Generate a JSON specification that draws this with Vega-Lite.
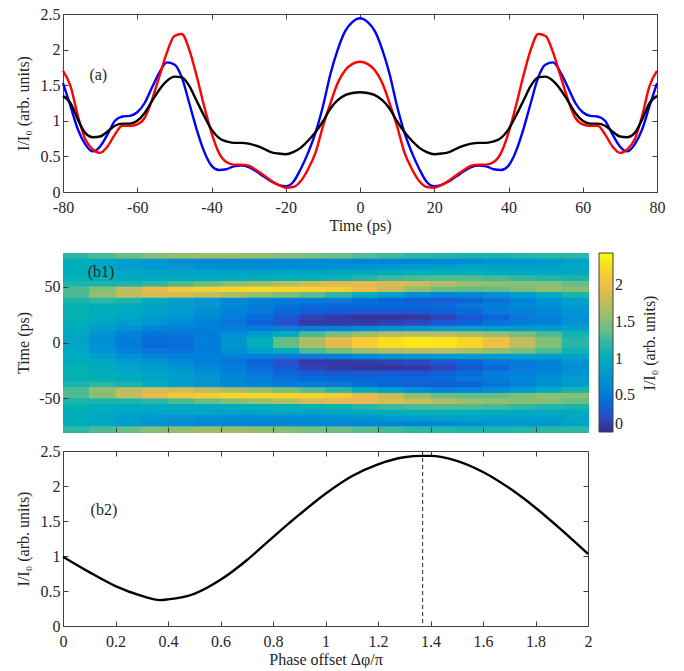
{
  "$schema": "https://vega.github.io/schema/vega-lite/v6.json",
  "padding": {"left": 14, "top": 5, "right": 0, "bottom": 0},
  "config": {
    "font": "Liberation Serif",
    "view": {"stroke": "#404040", "strokeWidth": 1},
    "axis": {
      "grid": false, "domain": false, "tickColor": "#404040", "tickSize": -5,
      "labelPadding": 8, "labelFont": "Liberation Serif", "labelFontSize": 16,
      "labelColor": "#262626", "labelOverlap": false, "labelFlush": false,
      "titleFont": "Liberation Serif", "titleFontSize": 16, "titleFontWeight": "normal",
      "titleColor": "#262626", "titlePadding": 2
    },
    "axisX": {"labelPadding": 12, "titlePadding": 2},
    "axisLeft": {"minExtent": 30, "maxExtent": 30},
    "text": {"font": "Liberation Serif", "fontSize": 16, "color": "#262626"}
  },
  "datasets": {
    "lines": [
      {"t":-80,"s":"b","v":1.53},{"t":-78,"s":"b","v":1.21},{"t":-76,"s":"b","v":0.88},{"t":-74,"s":"b","v":0.67},{"t":-72,"s":"b","v":0.57},{"t":-70,"s":"b","v":0.64},{"t":-68,"s":"b","v":0.81},{"t":-66,"s":"b","v":1.0},{"t":-64,"s":"b","v":1.06},{"t":-62,"s":"b","v":1.07},{"t":-60,"s":"b","v":1.12},{"t":-58,"s":"b","v":1.25},{"t":-56,"s":"b","v":1.47},{"t":-54,"s":"b","v":1.68},{"t":-52,"s":"b","v":1.82},{"t":-50,"s":"b","v":1.79},{"t":-48,"s":"b","v":1.61},{"t":-46,"s":"b","v":1.25},{"t":-44,"s":"b","v":0.88},{"t":-42,"s":"b","v":0.57},{"t":-40,"s":"b","v":0.37},{"t":-38,"s":"b","v":0.31},{"t":-36,"s":"b","v":0.32},{"t":-34,"s":"b","v":0.36},{"t":-32,"s":"b","v":0.37},{"t":-30,"s":"b","v":0.35},{"t":-28,"s":"b","v":0.29},{"t":-26,"s":"b","v":0.22},{"t":-24,"s":"b","v":0.15},{"t":-22,"s":"b","v":0.1},{"t":-20,"s":"b","v":0.08},{"t":-18,"s":"b","v":0.14},{"t":-16,"s":"b","v":0.32},{"t":-14,"s":"b","v":0.55},{"t":-12,"s":"b","v":0.83},{"t":-10,"s":"b","v":1.2},{"t":-8,"s":"b","v":1.65},{"t":-6,"s":"b","v":2.0},{"t":-4,"s":"b","v":2.26},{"t":-2,"s":"b","v":2.39},
      {"t":0,"s":"b","v":2.44},
      {"t":2,"s":"b","v":2.39},{"t":4,"s":"b","v":2.26},{"t":6,"s":"b","v":2.0},{"t":8,"s":"b","v":1.65},{"t":10,"s":"b","v":1.2},{"t":12,"s":"b","v":0.83},{"t":14,"s":"b","v":0.55},{"t":16,"s":"b","v":0.32},{"t":18,"s":"b","v":0.14},{"t":20,"s":"b","v":0.08},{"t":22,"s":"b","v":0.1},{"t":24,"s":"b","v":0.15},{"t":26,"s":"b","v":0.22},{"t":28,"s":"b","v":0.29},{"t":30,"s":"b","v":0.35},{"t":32,"s":"b","v":0.37},{"t":34,"s":"b","v":0.36},{"t":36,"s":"b","v":0.32},{"t":38,"s":"b","v":0.31},{"t":40,"s":"b","v":0.37},{"t":42,"s":"b","v":0.57},{"t":44,"s":"b","v":0.88},{"t":46,"s":"b","v":1.25},{"t":48,"s":"b","v":1.61},{"t":50,"s":"b","v":1.79},{"t":52,"s":"b","v":1.82},{"t":54,"s":"b","v":1.68},{"t":56,"s":"b","v":1.47},{"t":58,"s":"b","v":1.25},{"t":60,"s":"b","v":1.12},{"t":62,"s":"b","v":1.07},{"t":64,"s":"b","v":1.06},{"t":66,"s":"b","v":1.0},{"t":68,"s":"b","v":0.81},{"t":70,"s":"b","v":0.64},{"t":72,"s":"b","v":0.57},{"t":74,"s":"b","v":0.67},{"t":76,"s":"b","v":0.88},{"t":78,"s":"b","v":1.21},{"t":80,"s":"b","v":1.53},
      {"t":-80,"s":"r","v":1.7},{"t":-78,"s":"r","v":1.49},{"t":-76,"s":"r","v":1.07},{"t":-74,"s":"r","v":0.74},{"t":-72,"s":"r","v":0.6},{"t":-70,"s":"r","v":0.55},{"t":-68,"s":"r","v":0.64},{"t":-66,"s":"r","v":0.81},{"t":-64,"s":"r","v":0.93},{"t":-62,"s":"r","v":0.93},{"t":-60,"s":"r","v":0.95},{"t":-58,"s":"r","v":1.04},{"t":-56,"s":"r","v":1.3},{"t":-54,"s":"r","v":1.63},{"t":-52,"s":"r","v":1.96},{"t":-50,"s":"r","v":2.19},{"t":-48,"s":"r","v":2.22},{"t":-46,"s":"r","v":2.0},{"t":-44,"s":"r","v":1.63},{"t":-42,"s":"r","v":1.21},{"t":-40,"s":"r","v":0.83},{"t":-38,"s":"r","v":0.55},{"t":-36,"s":"r","v":0.42},{"t":-34,"s":"r","v":0.385},{"t":-32,"s":"r","v":0.385},{"t":-30,"s":"r","v":0.37},{"t":-28,"s":"r","v":0.31},{"t":-26,"s":"r","v":0.24},{"t":-24,"s":"r","v":0.16},{"t":-22,"s":"r","v":0.1},{"t":-20,"s":"r","v":0.06},{"t":-18,"s":"r","v":0.07},{"t":-16,"s":"r","v":0.15},{"t":-14,"s":"r","v":0.32},{"t":-12,"s":"r","v":0.55},{"t":-10,"s":"r","v":0.92},{"t":-8,"s":"r","v":1.24},{"t":-6,"s":"r","v":1.53},{"t":-4,"s":"r","v":1.71},{"t":-2,"s":"r","v":1.8},
      {"t":0,"s":"r","v":1.83},
      {"t":2,"s":"r","v":1.8},{"t":4,"s":"r","v":1.71},{"t":6,"s":"r","v":1.53},{"t":8,"s":"r","v":1.24},{"t":10,"s":"r","v":0.92},{"t":12,"s":"r","v":0.55},{"t":14,"s":"r","v":0.32},{"t":16,"s":"r","v":0.15},{"t":18,"s":"r","v":0.07},{"t":20,"s":"r","v":0.06},{"t":22,"s":"r","v":0.1},{"t":24,"s":"r","v":0.16},{"t":26,"s":"r","v":0.24},{"t":28,"s":"r","v":0.31},{"t":30,"s":"r","v":0.37},{"t":32,"s":"r","v":0.385},{"t":34,"s":"r","v":0.385},{"t":36,"s":"r","v":0.42},{"t":38,"s":"r","v":0.55},{"t":40,"s":"r","v":0.83},{"t":42,"s":"r","v":1.21},{"t":44,"s":"r","v":1.63},{"t":46,"s":"r","v":2.0},{"t":48,"s":"r","v":2.22},{"t":50,"s":"r","v":2.19},{"t":52,"s":"r","v":1.96},{"t":54,"s":"r","v":1.63},{"t":56,"s":"r","v":1.3},{"t":58,"s":"r","v":1.04},{"t":60,"s":"r","v":0.95},{"t":62,"s":"r","v":0.93},{"t":64,"s":"r","v":0.93},{"t":66,"s":"r","v":0.81},{"t":68,"s":"r","v":0.64},{"t":70,"s":"r","v":0.55},{"t":72,"s":"r","v":0.6},{"t":74,"s":"r","v":0.74},{"t":76,"s":"r","v":1.07},{"t":78,"s":"r","v":1.49},{"t":80,"s":"r","v":1.7},
      {"t":-80,"s":"k","v":1.35},{"t":-78,"s":"k","v":1.25},{"t":-76,"s":"k","v":1.02},{"t":-74,"s":"k","v":0.83},{"t":-72,"s":"k","v":0.77},{"t":-70,"s":"k","v":0.78},{"t":-68,"s":"k","v":0.85},{"t":-66,"s":"k","v":0.93},{"t":-64,"s":"k","v":0.96},{"t":-62,"s":"k","v":0.96},{"t":-60,"s":"k","v":1.0},{"t":-58,"s":"k","v":1.11},{"t":-56,"s":"k","v":1.28},{"t":-54,"s":"k","v":1.44},{"t":-52,"s":"k","v":1.56},{"t":-50,"s":"k","v":1.62},{"t":-48,"s":"k","v":1.61},{"t":-46,"s":"k","v":1.49},{"t":-44,"s":"k","v":1.28},{"t":-42,"s":"k","v":1.07},{"t":-40,"s":"k","v":0.88},{"t":-38,"s":"k","v":0.76},{"t":-36,"s":"k","v":0.71},{"t":-34,"s":"k","v":0.69},{"t":-32,"s":"k","v":0.69},{"t":-30,"s":"k","v":0.68},{"t":-28,"s":"k","v":0.65},{"t":-26,"s":"k","v":0.61},{"t":-24,"s":"k","v":0.56},{"t":-22,"s":"k","v":0.54},{"t":-20,"s":"k","v":0.53},{"t":-18,"s":"k","v":0.56},{"t":-16,"s":"k","v":0.62},{"t":-14,"s":"k","v":0.72},{"t":-12,"s":"k","v":0.84},{"t":-10,"s":"k","v":0.99},{"t":-8,"s":"k","v":1.17},{"t":-6,"s":"k","v":1.29},{"t":-4,"s":"k","v":1.36},{"t":-2,"s":"k","v":1.39},
      {"t":0,"s":"k","v":1.4},
      {"t":2,"s":"k","v":1.39},{"t":4,"s":"k","v":1.36},{"t":6,"s":"k","v":1.29},{"t":8,"s":"k","v":1.17},{"t":10,"s":"k","v":0.99},{"t":12,"s":"k","v":0.84},{"t":14,"s":"k","v":0.72},{"t":16,"s":"k","v":0.62},{"t":18,"s":"k","v":0.56},{"t":20,"s":"k","v":0.53},{"t":22,"s":"k","v":0.54},{"t":24,"s":"k","v":0.56},{"t":26,"s":"k","v":0.61},{"t":28,"s":"k","v":0.65},{"t":30,"s":"k","v":0.68},{"t":32,"s":"k","v":0.69},{"t":34,"s":"k","v":0.69},{"t":36,"s":"k","v":0.71},{"t":38,"s":"k","v":0.76},{"t":40,"s":"k","v":0.88},{"t":42,"s":"k","v":1.07},{"t":44,"s":"k","v":1.28},{"t":46,"s":"k","v":1.49},{"t":48,"s":"k","v":1.61},{"t":50,"s":"k","v":1.62},{"t":52,"s":"k","v":1.56},{"t":54,"s":"k","v":1.44},{"t":56,"s":"k","v":1.28},{"t":58,"s":"k","v":1.11},{"t":60,"s":"k","v":1.0},{"t":62,"s":"k","v":0.96},{"t":64,"s":"k","v":0.96},{"t":66,"s":"k","v":0.93},{"t":68,"s":"k","v":0.85},{"t":70,"s":"k","v":0.78},{"t":72,"s":"k","v":0.77},{"t":74,"s":"k","v":0.83},{"t":76,"s":"k","v":1.02},{"t":78,"s":"k","v":1.25},{"t":80,"s":"k","v":1.35}
    ],
    "phase": [
      {"phi":0,"v":0.99},{"phi":0.1,"v":0.77},{"phi":0.2,"v":0.57},{"phi":0.3,"v":0.43},{"phi":0.37,"v":0.37},{"phi":0.4,"v":0.38},{"phi":0.5,"v":0.46},{"phi":0.6,"v":0.66},{"phi":0.7,"v":0.94},{"phi":0.8,"v":1.27},{"phi":0.9,"v":1.59},{"phi":1.0,"v":1.89},{"phi":1.1,"v":2.14},{"phi":1.2,"v":2.31},{"phi":1.3,"v":2.41},{"phi":1.37,"v":2.43},{"phi":1.4,"v":2.43},{"phi":1.5,"v":2.36},{"phi":1.6,"v":2.2},{"phi":1.7,"v":1.97},{"phi":1.8,"v":1.69},{"phi":1.9,"v":1.37},{"phi":2.0,"v":1.03}
    ],
    "heat": [
      {"p":0.05,"t":77.5,"v":1.2},{"p":0.15,"t":77.5,"v":1.3},{"p":0.25,"t":77.5,"v":1.4},{"p":0.35,"t":77.5,"v":1.5},{"p":0.45,"t":77.5,"v":1.55},{"p":0.55,"t":77.5,"v":1.58},{"p":0.65,"t":77.5,"v":1.58},{"p":0.75,"t":77.5,"v":1.55},{"p":0.85,"t":77.5,"v":1.5},{"p":0.95,"t":77.5,"v":1.45},{"p":1.05,"t":77.5,"v":1.4},{"p":1.15,"t":77.5,"v":1.33},{"p":1.25,"t":77.5,"v":1.25},{"p":1.35,"t":77.5,"v":1.2},{"p":1.45,"t":77.5,"v":1.17},{"p":1.55,"t":77.5,"v":1.15},{"p":1.65,"t":77.5,"v":1.15},{"p":1.75,"t":77.5,"v":1.17},{"p":1.85,"t":77.5,"v":1.2},{"p":1.95,"t":77.5,"v":1.2},
      {"p":0.05,"t":72.5,"v":1.05},{"p":0.15,"t":72.5,"v":0.95},{"p":0.25,"t":72.5,"v":0.85},{"p":0.35,"t":72.5,"v":0.75},{"p":0.45,"t":72.5,"v":0.68},{"p":0.55,"t":72.5,"v":0.64},{"p":0.65,"t":72.5,"v":0.62},{"p":0.75,"t":72.5,"v":0.61},{"p":0.85,"t":72.5,"v":0.62},{"p":0.95,"t":72.5,"v":0.63},{"p":1.05,"t":72.5,"v":0.62},{"p":1.15,"t":72.5,"v":0.6},{"p":1.25,"t":72.5,"v":0.59},{"p":1.35,"t":72.5,"v":0.6},{"p":1.45,"t":72.5,"v":0.63},{"p":1.55,"t":72.5,"v":0.67},{"p":1.65,"t":72.5,"v":0.72},{"p":1.75,"t":72.5,"v":0.76},{"p":1.85,"t":72.5,"v":0.79},{"p":1.95,"t":72.5,"v":0.9},
      {"p":0.05,"t":67.5,"v":1.05},{"p":0.15,"t":67.5,"v":0.95},{"p":0.25,"t":67.5,"v":0.85},{"p":0.35,"t":67.5,"v":0.78},{"p":0.45,"t":67.5,"v":0.73},{"p":0.55,"t":67.5,"v":0.7},{"p":0.65,"t":67.5,"v":0.68},{"p":0.75,"t":67.5,"v":0.67},{"p":0.85,"t":67.5,"v":0.67},{"p":0.95,"t":67.5,"v":0.68},{"p":1.05,"t":67.5,"v":0.7},{"p":1.15,"t":67.5,"v":0.75},{"p":1.25,"t":67.5,"v":0.8},{"p":1.35,"t":67.5,"v":0.85},{"p":1.45,"t":67.5,"v":0.88},{"p":1.55,"t":67.5,"v":0.9},{"p":1.65,"t":67.5,"v":0.9},{"p":1.75,"t":67.5,"v":0.89},{"p":1.85,"t":67.5,"v":0.88},{"p":1.95,"t":67.5,"v":0.95},
      {"p":0.05,"t":62.5,"v":1.05},{"p":0.15,"t":62.5,"v":1.0},{"p":0.25,"t":62.5,"v":0.95},{"p":0.35,"t":62.5,"v":0.93},{"p":0.45,"t":62.5,"v":0.92},{"p":0.55,"t":62.5,"v":0.92},{"p":0.65,"t":62.5,"v":0.92},{"p":0.75,"t":62.5,"v":0.92},{"p":0.85,"t":62.5,"v":0.93},{"p":0.95,"t":62.5,"v":0.93},{"p":1.05,"t":62.5,"v":0.95},{"p":1.15,"t":62.5,"v":1.0},{"p":1.25,"t":62.5,"v":1.04},{"p":1.35,"t":62.5,"v":1.07},{"p":1.45,"t":62.5,"v":1.08},{"p":1.55,"t":62.5,"v":1.06},{"p":1.65,"t":62.5,"v":1.03},{"p":1.75,"t":62.5,"v":1.0},{"p":1.85,"t":62.5,"v":0.97},{"p":1.95,"t":62.5,"v":1.0},
      {"p":0.05,"t":57.5,"v":1.1},{"p":0.15,"t":57.5,"v":1.05},{"p":0.25,"t":57.5,"v":1.0},{"p":0.35,"t":57.5,"v":1.0},{"p":0.45,"t":57.5,"v":1.0},{"p":0.55,"t":57.5,"v":1.0},{"p":0.65,"t":57.5,"v":1.02},{"p":0.75,"t":57.5,"v":1.05},{"p":0.85,"t":57.5,"v":1.07},{"p":0.95,"t":57.5,"v":1.1},{"p":1.05,"t":57.5,"v":1.12},{"p":1.15,"t":57.5,"v":1.18},{"p":1.25,"t":57.5,"v":1.25},{"p":1.35,"t":57.5,"v":1.3},{"p":1.45,"t":57.5,"v":1.32},{"p":1.55,"t":57.5,"v":1.32},{"p":1.65,"t":57.5,"v":1.28},{"p":1.75,"t":57.5,"v":1.22},{"p":1.85,"t":57.5,"v":1.17},{"p":1.95,"t":57.5,"v":1.15},
      {"p":0.05,"t":52.5,"v":1.15},{"p":0.15,"t":52.5,"v":1.15},{"p":0.25,"t":52.5,"v":1.15},{"p":0.35,"t":52.5,"v":1.2},{"p":0.45,"t":52.5,"v":1.3},{"p":0.55,"t":52.5,"v":1.4},{"p":0.65,"t":52.5,"v":1.5},{"p":0.75,"t":52.5,"v":1.6},{"p":0.85,"t":52.5,"v":1.7},{"p":0.95,"t":52.5,"v":1.85},{"p":1.05,"t":52.5,"v":1.92},{"p":1.15,"t":52.5,"v":1.95},{"p":1.25,"t":52.5,"v":1.9},{"p":1.35,"t":52.5,"v":1.8},{"p":1.45,"t":52.5,"v":1.7},{"p":1.55,"t":52.5,"v":1.6},{"p":1.65,"t":52.5,"v":1.55},{"p":1.75,"t":52.5,"v":1.52},{"p":1.85,"t":52.5,"v":1.5},{"p":1.95,"t":52.5,"v":1.4},
      {"p":0.05,"t":47.5,"v":1.3},{"p":0.15,"t":47.5,"v":1.5},{"p":0.25,"t":47.5,"v":1.75},{"p":0.35,"t":47.5,"v":1.95},{"p":0.45,"t":47.5,"v":2.1},{"p":0.55,"t":47.5,"v":2.15},{"p":0.65,"t":47.5,"v":2.2},{"p":0.75,"t":47.5,"v":2.22},{"p":0.85,"t":47.5,"v":2.2},{"p":0.95,"t":47.5,"v":2.18},{"p":1.05,"t":47.5,"v":2.12},{"p":1.15,"t":47.5,"v":1.98},{"p":1.25,"t":47.5,"v":1.78},{"p":1.35,"t":47.5,"v":1.55},{"p":1.45,"t":47.5,"v":1.4},{"p":1.55,"t":47.5,"v":1.35},{"p":1.65,"t":47.5,"v":1.38},{"p":1.75,"t":47.5,"v":1.45},{"p":1.85,"t":47.5,"v":1.55},{"p":1.95,"t":47.5,"v":1.5},
      {"p":0.05,"t":42.5,"v":1.3},{"p":0.15,"t":42.5,"v":1.55},{"p":0.25,"t":42.5,"v":1.75},{"p":0.35,"t":42.5,"v":1.85},{"p":0.45,"t":42.5,"v":1.85},{"p":0.55,"t":42.5,"v":1.75},{"p":0.65,"t":42.5,"v":1.65},{"p":0.75,"t":42.5,"v":1.55},{"p":0.85,"t":42.5,"v":1.45},{"p":0.95,"t":42.5,"v":1.33},{"p":1.05,"t":42.5,"v":1.2},{"p":1.15,"t":42.5,"v":1.02},{"p":1.25,"t":42.5,"v":0.85},{"p":1.35,"t":42.5,"v":0.68},{"p":1.45,"t":42.5,"v":0.6},{"p":1.55,"t":42.5,"v":0.6},{"p":1.65,"t":42.5,"v":0.68},{"p":1.75,"t":42.5,"v":0.82},{"p":1.85,"t":42.5,"v":1.0},{"p":1.95,"t":42.5,"v":1.15},
      {"p":0.05,"t":37.5,"v":1.15},{"p":0.15,"t":37.5,"v":1.2},{"p":0.25,"t":37.5,"v":1.15},{"p":0.35,"t":37.5,"v":1.0},{"p":0.45,"t":37.5,"v":0.85},{"p":0.55,"t":37.5,"v":0.72},{"p":0.65,"t":37.5,"v":0.62},{"p":0.75,"t":37.5,"v":0.57},{"p":0.85,"t":37.5,"v":0.53},{"p":0.95,"t":37.5,"v":0.52},{"p":1.05,"t":37.5,"v":0.48},{"p":1.15,"t":37.5,"v":0.42},{"p":1.25,"t":37.5,"v":0.36},{"p":1.35,"t":37.5,"v":0.31},{"p":1.45,"t":37.5,"v":0.3},{"p":1.55,"t":37.5,"v":0.35},{"p":1.65,"t":37.5,"v":0.45},{"p":1.75,"t":37.5,"v":0.58},{"p":1.85,"t":37.5,"v":0.7},{"p":1.95,"t":37.5,"v":0.85},
      {"p":0.05,"t":32.5,"v":1.1},{"p":0.15,"t":32.5,"v":1.05},{"p":0.25,"t":32.5,"v":1.0},{"p":0.35,"t":32.5,"v":0.93},{"p":0.45,"t":32.5,"v":0.84},{"p":0.55,"t":32.5,"v":0.74},{"p":0.65,"t":32.5,"v":0.62},{"p":0.75,"t":32.5,"v":0.52},{"p":0.85,"t":32.5,"v":0.44},{"p":0.95,"t":32.5,"v":0.39},{"p":1.05,"t":32.5,"v":0.38},{"p":1.15,"t":32.5,"v":0.38},{"p":1.25,"t":32.5,"v":0.38},{"p":1.35,"t":32.5,"v":0.37},{"p":1.45,"t":32.5,"v":0.4},{"p":1.55,"t":32.5,"v":0.46},{"p":1.65,"t":32.5,"v":0.54},{"p":1.75,"t":32.5,"v":0.62},{"p":1.85,"t":32.5,"v":0.68},{"p":1.95,"t":32.5,"v":0.8},
      {"p":0.05,"t":27.5,"v":1.1},{"p":0.15,"t":27.5,"v":1.05},{"p":0.25,"t":27.5,"v":1.0},{"p":0.35,"t":27.5,"v":0.92},{"p":0.45,"t":27.5,"v":0.82},{"p":0.55,"t":27.5,"v":0.7},{"p":0.65,"t":27.5,"v":0.58},{"p":0.75,"t":27.5,"v":0.46},{"p":0.85,"t":27.5,"v":0.37},{"p":0.95,"t":27.5,"v":0.3},{"p":1.05,"t":27.5,"v":0.28},{"p":1.15,"t":27.5,"v":0.26},{"p":1.25,"t":27.5,"v":0.26},{"p":1.35,"t":27.5,"v":0.27},{"p":1.45,"t":27.5,"v":0.32},{"p":1.55,"t":27.5,"v":0.4},{"p":1.65,"t":27.5,"v":0.48},{"p":1.75,"t":27.5,"v":0.56},{"p":1.85,"t":27.5,"v":0.63},{"p":1.95,"t":27.5,"v":0.75},
      {"p":0.05,"t":22.5,"v":1.1},{"p":0.15,"t":22.5,"v":1.0},{"p":0.25,"t":22.5,"v":0.92},{"p":0.35,"t":22.5,"v":0.84},{"p":0.45,"t":22.5,"v":0.75},{"p":0.55,"t":22.5,"v":0.64},{"p":0.65,"t":22.5,"v":0.52},{"p":0.75,"t":22.5,"v":0.4},{"p":0.85,"t":22.5,"v":0.27},{"p":0.95,"t":22.5,"v":0.15},{"p":1.05,"t":22.5,"v":0.1},{"p":1.15,"t":22.5,"v":0.07},{"p":1.25,"t":22.5,"v":0.07},{"p":1.35,"t":22.5,"v":0.09},{"p":1.45,"t":22.5,"v":0.16},{"p":1.55,"t":22.5,"v":0.27},{"p":1.65,"t":22.5,"v":0.38},{"p":1.75,"t":22.5,"v":0.48},{"p":1.85,"t":22.5,"v":0.55},{"p":1.95,"t":22.5,"v":0.68},
      {"p":0.05,"t":17.5,"v":1.05},{"p":0.15,"t":17.5,"v":0.95},{"p":0.25,"t":17.5,"v":0.85},{"p":0.35,"t":17.5,"v":0.75},{"p":0.45,"t":17.5,"v":0.65},{"p":0.55,"t":17.5,"v":0.55},{"p":0.65,"t":17.5,"v":0.45},{"p":0.75,"t":17.5,"v":0.33},{"p":0.85,"t":17.5,"v":0.22},{"p":0.95,"t":17.5,"v":0.1},{"p":1.05,"t":17.5,"v":0.1},{"p":1.15,"t":17.5,"v":0.11},{"p":1.25,"t":17.5,"v":0.14},{"p":1.35,"t":17.5,"v":0.18},{"p":1.45,"t":17.5,"v":0.26},{"p":1.55,"t":17.5,"v":0.35},{"p":1.65,"t":17.5,"v":0.45},{"p":1.75,"t":17.5,"v":0.53},{"p":1.85,"t":17.5,"v":0.58},{"p":1.95,"t":17.5,"v":0.72},
      {"p":0.05,"t":12.5,"v":1.0},{"p":0.15,"t":12.5,"v":0.85},{"p":0.25,"t":12.5,"v":0.7},{"p":0.35,"t":12.5,"v":0.6},{"p":0.45,"t":12.5,"v":0.56},{"p":0.55,"t":12.5,"v":0.56},{"p":0.65,"t":12.5,"v":0.55},{"p":0.75,"t":12.5,"v":0.52},{"p":0.85,"t":12.5,"v":0.5},{"p":0.95,"t":12.5,"v":0.5},{"p":1.05,"t":12.5,"v":0.55},{"p":1.15,"t":12.5,"v":0.63},{"p":1.25,"t":12.5,"v":0.7},{"p":1.35,"t":12.5,"v":0.76},{"p":1.45,"t":12.5,"v":0.8},{"p":1.55,"t":12.5,"v":0.83},{"p":1.65,"t":12.5,"v":0.84},{"p":1.75,"t":12.5,"v":0.84},{"p":1.85,"t":12.5,"v":0.82},{"p":1.95,"t":12.5,"v":0.88},
      {"p":0.05,"t":7.5,"v":0.95},{"p":0.15,"t":7.5,"v":0.75},{"p":0.25,"t":7.5,"v":0.58},{"p":0.35,"t":7.5,"v":0.46},{"p":0.45,"t":7.5,"v":0.45},{"p":0.55,"t":7.5,"v":0.52},{"p":0.65,"t":7.5,"v":0.68},{"p":0.75,"t":7.5,"v":0.85},{"p":0.85,"t":7.5,"v":1.05},{"p":0.95,"t":7.5,"v":1.3},{"p":1.05,"t":7.5,"v":1.45},{"p":1.15,"t":7.5,"v":1.6},{"p":1.25,"t":7.5,"v":1.7},{"p":1.35,"t":7.5,"v":1.74},{"p":1.45,"t":7.5,"v":1.72},{"p":1.55,"t":7.5,"v":1.66},{"p":1.65,"t":7.5,"v":1.56},{"p":1.75,"t":7.5,"v":1.45},{"p":1.85,"t":7.5,"v":1.3},{"p":1.95,"t":7.5,"v":1.12},
      {"p":0.05,"t":2.5,"v":0.92},{"p":0.15,"t":2.5,"v":0.7},{"p":0.25,"t":2.5,"v":0.52},{"p":0.35,"t":2.5,"v":0.41},{"p":0.45,"t":2.5,"v":0.42},{"p":0.55,"t":2.5,"v":0.53},{"p":0.65,"t":2.5,"v":0.77},{"p":0.75,"t":2.5,"v":1.06},{"p":0.85,"t":2.5,"v":1.37},{"p":0.95,"t":2.5,"v":1.66},{"p":1.05,"t":2.5,"v":1.93},{"p":1.15,"t":2.5,"v":2.12},{"p":1.25,"t":2.5,"v":2.26},{"p":1.35,"t":2.5,"v":2.32},{"p":1.45,"t":2.5,"v":2.3},{"p":1.55,"t":2.5,"v":2.2},{"p":1.65,"t":2.5,"v":2.02},{"p":1.75,"t":2.5,"v":1.76},{"p":1.85,"t":2.5,"v":1.48},{"p":1.95,"t":2.5,"v":1.18},
      {"p":0.05,"t":-2.5,"v":0.92},{"p":0.15,"t":-2.5,"v":0.7},{"p":0.25,"t":-2.5,"v":0.52},{"p":0.35,"t":-2.5,"v":0.41},{"p":0.45,"t":-2.5,"v":0.42},{"p":0.55,"t":-2.5,"v":0.53},{"p":0.65,"t":-2.5,"v":0.77},{"p":0.75,"t":-2.5,"v":1.06},{"p":0.85,"t":-2.5,"v":1.37},{"p":0.95,"t":-2.5,"v":1.66},{"p":1.05,"t":-2.5,"v":1.93},{"p":1.15,"t":-2.5,"v":2.12},{"p":1.25,"t":-2.5,"v":2.26},{"p":1.35,"t":-2.5,"v":2.32},{"p":1.45,"t":-2.5,"v":2.3},{"p":1.55,"t":-2.5,"v":2.2},{"p":1.65,"t":-2.5,"v":2.02},{"p":1.75,"t":-2.5,"v":1.76},{"p":1.85,"t":-2.5,"v":1.48},{"p":1.95,"t":-2.5,"v":1.18},
      {"p":0.05,"t":-7.5,"v":0.95},{"p":0.15,"t":-7.5,"v":0.75},{"p":0.25,"t":-7.5,"v":0.58},{"p":0.35,"t":-7.5,"v":0.46},{"p":0.45,"t":-7.5,"v":0.45},{"p":0.55,"t":-7.5,"v":0.52},{"p":0.65,"t":-7.5,"v":0.68},{"p":0.75,"t":-7.5,"v":0.85},{"p":0.85,"t":-7.5,"v":1.05},{"p":0.95,"t":-7.5,"v":1.3},{"p":1.05,"t":-7.5,"v":1.45},{"p":1.15,"t":-7.5,"v":1.6},{"p":1.25,"t":-7.5,"v":1.7},{"p":1.35,"t":-7.5,"v":1.74},{"p":1.45,"t":-7.5,"v":1.72},{"p":1.55,"t":-7.5,"v":1.66},{"p":1.65,"t":-7.5,"v":1.56},{"p":1.75,"t":-7.5,"v":1.45},{"p":1.85,"t":-7.5,"v":1.3},{"p":1.95,"t":-7.5,"v":1.12},
      {"p":0.05,"t":-12.5,"v":1.0},{"p":0.15,"t":-12.5,"v":0.85},{"p":0.25,"t":-12.5,"v":0.7},{"p":0.35,"t":-12.5,"v":0.6},{"p":0.45,"t":-12.5,"v":0.56},{"p":0.55,"t":-12.5,"v":0.56},{"p":0.65,"t":-12.5,"v":0.55},{"p":0.75,"t":-12.5,"v":0.52},{"p":0.85,"t":-12.5,"v":0.5},{"p":0.95,"t":-12.5,"v":0.5},{"p":1.05,"t":-12.5,"v":0.55},{"p":1.15,"t":-12.5,"v":0.63},{"p":1.25,"t":-12.5,"v":0.7},{"p":1.35,"t":-12.5,"v":0.76},{"p":1.45,"t":-12.5,"v":0.8},{"p":1.55,"t":-12.5,"v":0.83},{"p":1.65,"t":-12.5,"v":0.84},{"p":1.75,"t":-12.5,"v":0.84},{"p":1.85,"t":-12.5,"v":0.82},{"p":1.95,"t":-12.5,"v":0.88},
      {"p":0.05,"t":-17.5,"v":1.05},{"p":0.15,"t":-17.5,"v":0.95},{"p":0.25,"t":-17.5,"v":0.85},{"p":0.35,"t":-17.5,"v":0.75},{"p":0.45,"t":-17.5,"v":0.65},{"p":0.55,"t":-17.5,"v":0.55},{"p":0.65,"t":-17.5,"v":0.45},{"p":0.75,"t":-17.5,"v":0.33},{"p":0.85,"t":-17.5,"v":0.22},{"p":0.95,"t":-17.5,"v":0.1},{"p":1.05,"t":-17.5,"v":0.1},{"p":1.15,"t":-17.5,"v":0.11},{"p":1.25,"t":-17.5,"v":0.14},{"p":1.35,"t":-17.5,"v":0.18},{"p":1.45,"t":-17.5,"v":0.26},{"p":1.55,"t":-17.5,"v":0.35},{"p":1.65,"t":-17.5,"v":0.45},{"p":1.75,"t":-17.5,"v":0.53},{"p":1.85,"t":-17.5,"v":0.58},{"p":1.95,"t":-17.5,"v":0.72},
      {"p":0.05,"t":-22.5,"v":1.1},{"p":0.15,"t":-22.5,"v":1.0},{"p":0.25,"t":-22.5,"v":0.92},{"p":0.35,"t":-22.5,"v":0.84},{"p":0.45,"t":-22.5,"v":0.75},{"p":0.55,"t":-22.5,"v":0.64},{"p":0.65,"t":-22.5,"v":0.52},{"p":0.75,"t":-22.5,"v":0.4},{"p":0.85,"t":-22.5,"v":0.27},{"p":0.95,"t":-22.5,"v":0.15},{"p":1.05,"t":-22.5,"v":0.1},{"p":1.15,"t":-22.5,"v":0.07},{"p":1.25,"t":-22.5,"v":0.07},{"p":1.35,"t":-22.5,"v":0.09},{"p":1.45,"t":-22.5,"v":0.16},{"p":1.55,"t":-22.5,"v":0.27},{"p":1.65,"t":-22.5,"v":0.38},{"p":1.75,"t":-22.5,"v":0.48},{"p":1.85,"t":-22.5,"v":0.55},{"p":1.95,"t":-22.5,"v":0.68},
      {"p":0.05,"t":-27.5,"v":1.1},{"p":0.15,"t":-27.5,"v":1.05},{"p":0.25,"t":-27.5,"v":1.0},{"p":0.35,"t":-27.5,"v":0.92},{"p":0.45,"t":-27.5,"v":0.82},{"p":0.55,"t":-27.5,"v":0.7},{"p":0.65,"t":-27.5,"v":0.58},{"p":0.75,"t":-27.5,"v":0.46},{"p":0.85,"t":-27.5,"v":0.37},{"p":0.95,"t":-27.5,"v":0.3},{"p":1.05,"t":-27.5,"v":0.28},{"p":1.15,"t":-27.5,"v":0.26},{"p":1.25,"t":-27.5,"v":0.26},{"p":1.35,"t":-27.5,"v":0.27},{"p":1.45,"t":-27.5,"v":0.32},{"p":1.55,"t":-27.5,"v":0.4},{"p":1.65,"t":-27.5,"v":0.48},{"p":1.75,"t":-27.5,"v":0.56},{"p":1.85,"t":-27.5,"v":0.63},{"p":1.95,"t":-27.5,"v":0.75},
      {"p":0.05,"t":-32.5,"v":1.1},{"p":0.15,"t":-32.5,"v":1.05},{"p":0.25,"t":-32.5,"v":1.0},{"p":0.35,"t":-32.5,"v":0.93},{"p":0.45,"t":-32.5,"v":0.84},{"p":0.55,"t":-32.5,"v":0.74},{"p":0.65,"t":-32.5,"v":0.62},{"p":0.75,"t":-32.5,"v":0.52},{"p":0.85,"t":-32.5,"v":0.44},{"p":0.95,"t":-32.5,"v":0.39},{"p":1.05,"t":-32.5,"v":0.38},{"p":1.15,"t":-32.5,"v":0.38},{"p":1.25,"t":-32.5,"v":0.38},{"p":1.35,"t":-32.5,"v":0.37},{"p":1.45,"t":-32.5,"v":0.4},{"p":1.55,"t":-32.5,"v":0.46},{"p":1.65,"t":-32.5,"v":0.54},{"p":1.75,"t":-32.5,"v":0.62},{"p":1.85,"t":-32.5,"v":0.68},{"p":1.95,"t":-32.5,"v":0.8},
      {"p":0.05,"t":-37.5,"v":1.15},{"p":0.15,"t":-37.5,"v":1.2},{"p":0.25,"t":-37.5,"v":1.15},{"p":0.35,"t":-37.5,"v":1.0},{"p":0.45,"t":-37.5,"v":0.85},{"p":0.55,"t":-37.5,"v":0.72},{"p":0.65,"t":-37.5,"v":0.62},{"p":0.75,"t":-37.5,"v":0.57},{"p":0.85,"t":-37.5,"v":0.53},{"p":0.95,"t":-37.5,"v":0.52},{"p":1.05,"t":-37.5,"v":0.48},{"p":1.15,"t":-37.5,"v":0.42},{"p":1.25,"t":-37.5,"v":0.36},{"p":1.35,"t":-37.5,"v":0.31},{"p":1.45,"t":-37.5,"v":0.3},{"p":1.55,"t":-37.5,"v":0.35},{"p":1.65,"t":-37.5,"v":0.45},{"p":1.75,"t":-37.5,"v":0.58},{"p":1.85,"t":-37.5,"v":0.7},{"p":1.95,"t":-37.5,"v":0.85},
      {"p":0.05,"t":-42.5,"v":1.3},{"p":0.15,"t":-42.5,"v":1.55},{"p":0.25,"t":-42.5,"v":1.75},{"p":0.35,"t":-42.5,"v":1.85},{"p":0.45,"t":-42.5,"v":1.85},{"p":0.55,"t":-42.5,"v":1.75},{"p":0.65,"t":-42.5,"v":1.65},{"p":0.75,"t":-42.5,"v":1.55},{"p":0.85,"t":-42.5,"v":1.45},{"p":0.95,"t":-42.5,"v":1.33},{"p":1.05,"t":-42.5,"v":1.2},{"p":1.15,"t":-42.5,"v":1.02},{"p":1.25,"t":-42.5,"v":0.85},{"p":1.35,"t":-42.5,"v":0.68},{"p":1.45,"t":-42.5,"v":0.6},{"p":1.55,"t":-42.5,"v":0.6},{"p":1.65,"t":-42.5,"v":0.68},{"p":1.75,"t":-42.5,"v":0.82},{"p":1.85,"t":-42.5,"v":1.0},{"p":1.95,"t":-42.5,"v":1.15},
      {"p":0.05,"t":-47.5,"v":1.3},{"p":0.15,"t":-47.5,"v":1.5},{"p":0.25,"t":-47.5,"v":1.75},{"p":0.35,"t":-47.5,"v":1.95},{"p":0.45,"t":-47.5,"v":2.1},{"p":0.55,"t":-47.5,"v":2.15},{"p":0.65,"t":-47.5,"v":2.2},{"p":0.75,"t":-47.5,"v":2.22},{"p":0.85,"t":-47.5,"v":2.2},{"p":0.95,"t":-47.5,"v":2.18},{"p":1.05,"t":-47.5,"v":2.12},{"p":1.15,"t":-47.5,"v":1.98},{"p":1.25,"t":-47.5,"v":1.78},{"p":1.35,"t":-47.5,"v":1.55},{"p":1.45,"t":-47.5,"v":1.4},{"p":1.55,"t":-47.5,"v":1.35},{"p":1.65,"t":-47.5,"v":1.38},{"p":1.75,"t":-47.5,"v":1.45},{"p":1.85,"t":-47.5,"v":1.55},{"p":1.95,"t":-47.5,"v":1.5},
      {"p":0.05,"t":-52.5,"v":1.15},{"p":0.15,"t":-52.5,"v":1.15},{"p":0.25,"t":-52.5,"v":1.15},{"p":0.35,"t":-52.5,"v":1.2},{"p":0.45,"t":-52.5,"v":1.3},{"p":0.55,"t":-52.5,"v":1.4},{"p":0.65,"t":-52.5,"v":1.5},{"p":0.75,"t":-52.5,"v":1.6},{"p":0.85,"t":-52.5,"v":1.7},{"p":0.95,"t":-52.5,"v":1.85},{"p":1.05,"t":-52.5,"v":1.92},{"p":1.15,"t":-52.5,"v":1.95},{"p":1.25,"t":-52.5,"v":1.9},{"p":1.35,"t":-52.5,"v":1.8},{"p":1.45,"t":-52.5,"v":1.7},{"p":1.55,"t":-52.5,"v":1.6},{"p":1.65,"t":-52.5,"v":1.55},{"p":1.75,"t":-52.5,"v":1.52},{"p":1.85,"t":-52.5,"v":1.5},{"p":1.95,"t":-52.5,"v":1.4},
      {"p":0.05,"t":-57.5,"v":1.1},{"p":0.15,"t":-57.5,"v":1.05},{"p":0.25,"t":-57.5,"v":1.0},{"p":0.35,"t":-57.5,"v":1.0},{"p":0.45,"t":-57.5,"v":1.0},{"p":0.55,"t":-57.5,"v":1.0},{"p":0.65,"t":-57.5,"v":1.02},{"p":0.75,"t":-57.5,"v":1.05},{"p":0.85,"t":-57.5,"v":1.07},{"p":0.95,"t":-57.5,"v":1.1},{"p":1.05,"t":-57.5,"v":1.12},{"p":1.15,"t":-57.5,"v":1.18},{"p":1.25,"t":-57.5,"v":1.25},{"p":1.35,"t":-57.5,"v":1.3},{"p":1.45,"t":-57.5,"v":1.32},{"p":1.55,"t":-57.5,"v":1.32},{"p":1.65,"t":-57.5,"v":1.28},{"p":1.75,"t":-57.5,"v":1.22},{"p":1.85,"t":-57.5,"v":1.17},{"p":1.95,"t":-57.5,"v":1.15},
      {"p":0.05,"t":-62.5,"v":1.05},{"p":0.15,"t":-62.5,"v":1.0},{"p":0.25,"t":-62.5,"v":0.95},{"p":0.35,"t":-62.5,"v":0.93},{"p":0.45,"t":-62.5,"v":0.92},{"p":0.55,"t":-62.5,"v":0.92},{"p":0.65,"t":-62.5,"v":0.92},{"p":0.75,"t":-62.5,"v":0.92},{"p":0.85,"t":-62.5,"v":0.93},{"p":0.95,"t":-62.5,"v":0.93},{"p":1.05,"t":-62.5,"v":0.95},{"p":1.15,"t":-62.5,"v":1.0},{"p":1.25,"t":-62.5,"v":1.04},{"p":1.35,"t":-62.5,"v":1.07},{"p":1.45,"t":-62.5,"v":1.08},{"p":1.55,"t":-62.5,"v":1.06},{"p":1.65,"t":-62.5,"v":1.03},{"p":1.75,"t":-62.5,"v":1.0},{"p":1.85,"t":-62.5,"v":0.97},{"p":1.95,"t":-62.5,"v":1.0},
      {"p":0.05,"t":-67.5,"v":1.05},{"p":0.15,"t":-67.5,"v":0.95},{"p":0.25,"t":-67.5,"v":0.85},{"p":0.35,"t":-67.5,"v":0.78},{"p":0.45,"t":-67.5,"v":0.73},{"p":0.55,"t":-67.5,"v":0.7},{"p":0.65,"t":-67.5,"v":0.68},{"p":0.75,"t":-67.5,"v":0.67},{"p":0.85,"t":-67.5,"v":0.67},{"p":0.95,"t":-67.5,"v":0.68},{"p":1.05,"t":-67.5,"v":0.7},{"p":1.15,"t":-67.5,"v":0.75},{"p":1.25,"t":-67.5,"v":0.8},{"p":1.35,"t":-67.5,"v":0.85},{"p":1.45,"t":-67.5,"v":0.88},{"p":1.55,"t":-67.5,"v":0.9},{"p":1.65,"t":-67.5,"v":0.9},{"p":1.75,"t":-67.5,"v":0.89},{"p":1.85,"t":-67.5,"v":0.88},{"p":1.95,"t":-67.5,"v":0.95},
      {"p":0.05,"t":-72.5,"v":1.05},{"p":0.15,"t":-72.5,"v":0.95},{"p":0.25,"t":-72.5,"v":0.85},{"p":0.35,"t":-72.5,"v":0.75},{"p":0.45,"t":-72.5,"v":0.68},{"p":0.55,"t":-72.5,"v":0.64},{"p":0.65,"t":-72.5,"v":0.62},{"p":0.75,"t":-72.5,"v":0.61},{"p":0.85,"t":-72.5,"v":0.62},{"p":0.95,"t":-72.5,"v":0.63},{"p":1.05,"t":-72.5,"v":0.62},{"p":1.15,"t":-72.5,"v":0.6},{"p":1.25,"t":-72.5,"v":0.59},{"p":1.35,"t":-72.5,"v":0.6},{"p":1.45,"t":-72.5,"v":0.63},{"p":1.55,"t":-72.5,"v":0.67},{"p":1.65,"t":-72.5,"v":0.72},{"p":1.75,"t":-72.5,"v":0.76},{"p":1.85,"t":-72.5,"v":0.79},{"p":1.95,"t":-72.5,"v":0.9},
      {"p":0.05,"t":-77.5,"v":1.2},{"p":0.15,"t":-77.5,"v":1.3},{"p":0.25,"t":-77.5,"v":1.4},{"p":0.35,"t":-77.5,"v":1.5},{"p":0.45,"t":-77.5,"v":1.55},{"p":0.55,"t":-77.5,"v":1.58},{"p":0.65,"t":-77.5,"v":1.58},{"p":0.75,"t":-77.5,"v":1.55},{"p":0.85,"t":-77.5,"v":1.5},{"p":0.95,"t":-77.5,"v":1.45},{"p":1.05,"t":-77.5,"v":1.4},{"p":1.15,"t":-77.5,"v":1.33},{"p":1.25,"t":-77.5,"v":1.25},{"p":1.35,"t":-77.5,"v":1.2},{"p":1.45,"t":-77.5,"v":1.17},{"p":1.55,"t":-77.5,"v":1.15},{"p":1.65,"t":-77.5,"v":1.15},{"p":1.75,"t":-77.5,"v":1.17},{"p":1.85,"t":-77.5,"v":1.2},{"p":1.95,"t":-77.5,"v":1.2}
    ]
  },
  "spacing": 18,
  "vconcat": [
    {
      "width": 594,
      "height": 178,
      "layer": [
        {
          "data": {"name": "lines"},
          "mark": {"type": "line", "strokeWidth": 2.4, "interpolate": "monotone"},
          "encoding": {
            "x": {"field": "t", "type": "quantitative", "scale": {"domain": [-80, 80], "nice": false},
                  "axis": {"values": [-80, -60, -40, -20, 0, 20, 40, 60, 80], "title": "Time (ps)", "labelExpr": "'' + datum.value"}},
            "y": {"field": "v", "type": "quantitative", "scale": {"domain": [0, 2.5], "nice": false},
                  "axis": {"values": [0, 0.5, 1, 1.5, 2, 2.5], "title": "I/I₀ (arb. units)", "labelExpr": "'' + datum.value"}},
            "color": {"field": "s", "type": "nominal", "scale": {"domain": ["b", "r", "k"], "range": ["#0000ff", "#ff0000", "#000000"]}, "legend": null}
          }
        },
        {
          "data": {"values": [{}]},
          "mark": {"type": "text"},
          "encoding": {
            "x": {"datum": -70.5, "type": "quantitative", "axis": {"orient": "top", "labels": false, "title": null, "values": [-80, -60, -40, -20, 0, 20, 40, 60, 80]}},
            "y": {"datum": 1.65, "type": "quantitative", "axis": {"orient": "right", "labels": false, "title": null, "minExtent": 0, "maxExtent": 0, "values": [0, 0.5, 1, 1.5, 2, 2.5]}},
            "text": {"value": "(a)"}
          }
        }
      ],
      "resolve": {"axis": {"x": "independent", "y": "independent"}}
    },
    {
      "spacing": 8,
      "vconcat": [
        {
          "width": 525,
          "height": 179,
          "layer": [
            {
              "data": {"name": "heat"},
              "mark": {"type": "rect", "binSpacing": 0, "strokeWidth": 1},
              "encoding": {
                "x": {"field": "p", "type": "quantitative", "bin": {"step": 0.1, "extent": [0, 2]}, "scale": {"domain": [0, 2], "nice": false},
                      "axis": {"values": [0.2, 0.4, 0.6, 0.8, 1, 1.2, 1.4, 1.6, 1.8], "labels": false, "title": null}},
                "y": {"field": "t", "type": "quantitative", "bin": {"step": 5, "extent": [-80, 80]}, "scale": {"domain": [-80, 80], "nice": false},
                      "axis": {"values": [-50, 0, 50], "title": "Time (ps)", "labelExpr": "'' + datum.value"}},
                "color": {
                  "field": "v", "type": "quantitative",
                  "scale": {
                    "domain": [0, 0.244, 0.488, 0.732, 0.976, 1.22, 1.464, 1.708, 1.952, 2.196, 2.44],
                    "range": ["#352a87", "#2053d4", "#1079da", "#0c93d2", "#07a9c2", "#33b8a1", "#7cbf7b", "#b7bd64", "#e9b94e", "#f9d329", "#f9fb0e"]
                  },
                  "legend": {
                    "title": null, "orient": "none", "legendX": 536, "legendY": 0, "direction": "vertical",
                    "gradientLength": 179, "gradientThickness": 14, "gradientStrokeColor": "#404040", "gradientStrokeWidth": 1,
                    "values": [0, 0.5, 1, 1.5, 2], "labelExpr": "'' + datum.value",
                    "labelFont": "Liberation Serif", "labelFontSize": 16, "labelColor": "#262626"
                  }
                },
                "stroke": {
                  "field": "v", "type": "quantitative",
                  "scale": {
                    "domain": [0, 0.244, 0.488, 0.732, 0.976, 1.22, 1.464, 1.708, 1.952, 2.196, 2.44],
                    "range": ["#352a87", "#2053d4", "#1079da", "#0c93d2", "#07a9c2", "#33b8a1", "#7cbf7b", "#b7bd64", "#e9b94e", "#f9d329", "#f9fb0e"]
                  },
                  "legend": null
                }
              }
            },
            {
              "data": {"values": [{}]},
              "mark": {"type": "text"},
              "encoding": {
                "x": {"datum": 0.145, "type": "quantitative", "axis": {"orient": "top", "labels": false, "title": null, "values": [0.2, 0.4, 0.6, 0.8, 1, 1.2, 1.4, 1.6, 1.8]}},
                "y": {"datum": 63, "type": "quantitative", "axis": {"orient": "right", "labels": false, "minExtent": 0, "maxExtent": 0, "values": [-50, 0, 50],
                      "title": "I/I₀ (arb. units)", "titleAngle": 270, "titleX": 61, "titleY": 89.5, "titleAlign": "center", "titleBaseline": "middle"}},
                "text": {"value": "(b1)"}
              }
            }
          ],
          "resolve": {"axis": {"x": "independent", "y": "independent"}}
        },
        {
          "width": 525,
          "height": 175,
          "layer": [
            {
              "data": {"name": "phase"},
              "mark": {"type": "line", "color": "#000000", "strokeWidth": 2.4, "interpolate": "monotone"},
              "encoding": {
                "x": {"field": "phi", "type": "quantitative", "scale": {"domain": [0, 2], "nice": false},
                      "axis": {"values": [0, 0.2, 0.4, 0.6, 0.8, 1, 1.2, 1.4, 1.6, 1.8, 2], "title": "Phase offset Δφ/π", "labelExpr": "'' + datum.value"}},
                "y": {"field": "v", "type": "quantitative", "scale": {"domain": [0, 2.5], "nice": false},
                      "axis": {"values": [0, 0.5, 1, 1.5, 2, 2.5], "title": "I/I₀ (arb. units)", "labelExpr": "'' + datum.value"}}
              }
            },
            {
              "data": {"values": [{}]},
              "mark": {"type": "rule", "color": "#262626", "strokeWidth": 1, "strokeDash": [4, 3]},
              "encoding": {"x": {"datum": 1.37, "type": "quantitative", "axis": null}}
            },
            {
              "data": {"values": [{}]},
              "mark": {"type": "text"},
              "encoding": {
                "x": {"datum": 0.156, "type": "quantitative", "axis": {"orient": "top", "labels": false, "title": null, "values": [0.2, 0.4, 0.6, 0.8, 1, 1.2, 1.4, 1.6, 1.8]}},
                "y": {"datum": 1.66, "type": "quantitative", "axis": {"orient": "right", "labels": false, "title": null, "minExtent": 0, "maxExtent": 0, "values": [0.5, 1, 1.5, 2]}},
                "text": {"value": "(b2)"}
              }
            }
          ],
          "resolve": {"axis": {"x": "independent", "y": "independent"}}
        }
      ]
    }
  ]
}
